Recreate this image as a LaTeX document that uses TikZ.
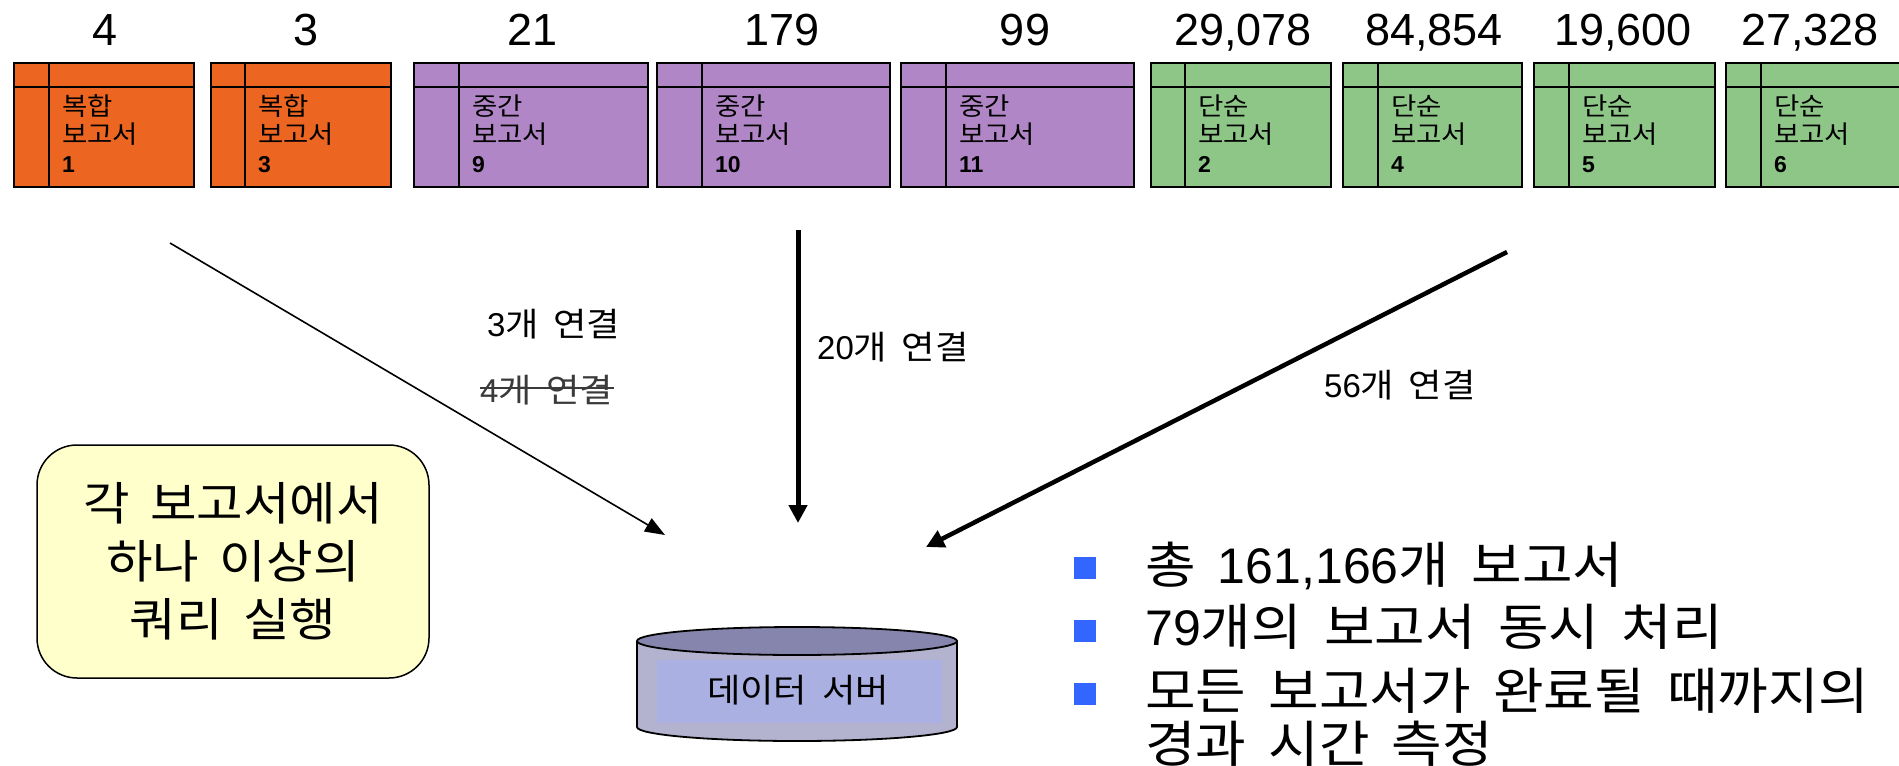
\documentclass[tikz,border=0pt]{standalone}
\usepackage{fontspec}
\setmainfont{Liberation Sans}
\newfontfamily\kr[FakeStretch=1.1, WordSpace=1.8]{Noto Sans CJK KR}
\usetikzlibrary{arrows.meta}
\definecolor{orangeF}{HTML}{EC6622}
\definecolor{purpleF}{HTML}{B186C6}
\definecolor{greenF}{HTML}{8EC688}
\definecolor{noteF}{HTML}{FFFFCC}
\definecolor{bulletC}{HTML}{3366FF}
\definecolor{cylTop}{HTML}{8585AD}
\definecolor{cylBody}{HTML}{B3B3CF}
\definecolor{cylIn}{HTML}{AAB0E2}
\definecolor{strikeC}{HTML}{3A3A3A}
\tikzset{
  rb/.style={draw=black, line width=1.8, anchor=north west, minimum height=124, inner sep=0},
  rbline/.style={draw=black, line width=1.8},
  cnt/.style={anchor=base, inner sep=0, font=\fontsize{45}{54}\selectfont},
  rtxt/.style={anchor=base west, inner sep=0},
  clabel/.style={anchor=base west, inner sep=0, font=\fontsize{33}{40}\selectfont},
  btxt/.style={anchor=base west, inner sep=0, font=\fontsize{50}{60}\selectfont},
  bsq/.style={fill=bulletC, minimum size=22, inner sep=0},
  thinarrow/.style={line width=1.6, -{Triangle[length=20,width=15]}},
  thickarrow/.style={line width=5, -{Triangle[length=18,width=18]}},
}
\newcommand\rtitle[3]{\vtop{\baselineskip=28.5pt\hbox{\kr\fontsize{25}{28.5}\selectfont #1}\hbox{\kr\fontsize{25}{28.5}\selectfont 보고서}\hbox{\bfseries\fontsize{23}{28.5}\selectfont #3}}}
% #1 name, #2 left, #3 right, #4 inner x, #5 colour, #6 count, #7 count x, #8 title, #9 number
\newcommand\rbox[9]{%
  \node (#1) [rb, fill=#5, minimum width={#3-#2}] at (#2,62) {};
  \draw[rbline] (#4,62) -- (#4,186) (#2,87) -- (#3,87);
  \node (#1c) [cnt] at (#7,45) {#6};
  \node (#1t) [rtxt] at ({#4+13},115) {\rtitle{#8}{}{#9}};
}
\begin{document}
\begin{tikzpicture}[x=1pt,y=-1pt]
\useasboundingbox (0,0) rectangle (1899,766);
% report boxes
\rbox{r1}{13}{193}{49}{orangeF}{4}{105}{복합}{1}
\rbox{r3}{210}{390}{245}{orangeF}{3}{306}{복합}{3}
\rbox{r9}{413}{647}{459}{purpleF}{21}{533}{중간}{9}
\rbox{r10}{656}{889}{702}{purpleF}{179}{782}{중간}{10}
\rbox{r11}{900}{1133}{946}{purpleF}{99}{1025}{중간}{11}
\rbox{r2}{1150}{1330}{1185}{greenF}{29,078}{1243}{단순}{2}
\rbox{r4}{1342}{1521}{1378}{greenF}{84,854}{1434}{단순}{4}
\rbox{r5}{1533}{1714}{1569}{greenF}{19,600}{1623}{단순}{5}
\rbox{r6}{1725}{1905}{1761}{greenF}{27,328}{1810}{단순}{6}

% arrows
\coordinate (a1s) at (170,243);
\coordinate (a1e) at (665,535);
\coordinate (a2s) at (798,230);
\coordinate (a2e) at (798,523);
\coordinate (a3s) at (1507,252);
\coordinate (a3e) at (926,547);
\draw[thinarrow] (a1s) -- (a1e);
\draw[thickarrow] (a2s) -- (a2e);
\draw[thickarrow, line width=4.5] (a3s) -- (a3e);

% connector labels
\node (l3) [clabel] at (487,336) {3{\kr 개 연결}};
\node (l4) [clabel, text=strikeC] at (480,402) {4{\kr 개 연결}};
\draw[strikeC, line width=1.2] ([yshift=14]l4.base west) -- ([yshift=14]l4.base east);
\node (l20) [clabel] at (817,359) {20{\kr 개 연결}};
\node (l56) [clabel] at (1324,397) {56{\kr 개 연결}};

% note
\node (note) [draw=black, line width=1.5, fill=noteF, rounded corners=40,
  minimum width=392, minimum height=233, align=center, inner sep=0,
  font=\kr\fontsize{46}{58}\selectfont] at (233,561.5) {각 보고서에서\\하나 이상의\\쿼리 실행};

% data server cylinder
\fill[cylBody] (637,641) rectangle (957,727);
\fill[cylBody] (797,727) ellipse [x radius=160, y radius=14];
\draw[line width=1.8] (637,641) -- (637,727) arc[start angle=180, end angle=0, x radius=160, y radius=14] -- (957,641);
\fill[cylIn] (657,660) rectangle (942,723);
\draw[line width=1.8, fill=cylTop] (797,641) ellipse [x radius=160, y radius=14];
\node (srv) [inner sep=0, font=\kr\fontsize{33}{40}\selectfont] at (798,690) {데이터 서버};

% bullets
\node (q1) [bsq] at (1085,568) {};
\node (q2) [bsq] at (1085,631) {};
\node (q3) [bsq] at (1085,694) {};
\node (b1) [btxt] at (1145,583) {{\kr 총 }161,166{\kr 개 보고서}};
\node (b2) [btxt] at (1145,645) {79{\kr 개의 보고서 동시 처리}};
\node (b3) [btxt] at (1145,709) {\kr 모든 보고서가 완료될 때까지의};
\node (b4) [btxt] at (1145,762) {\kr 경과 시간 측정};
\end{tikzpicture}
\end{document}
